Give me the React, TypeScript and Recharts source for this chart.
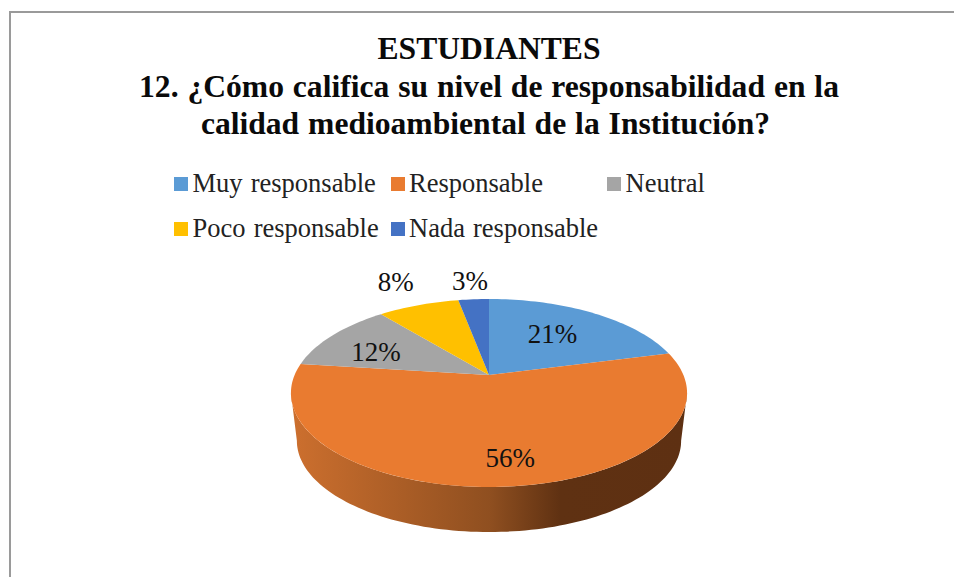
import React from "react";
import { PieChart, Pie, Cell, Legend } from "recharts";

const categories = ["Muy responsable", "Responsable", "Neutral", "Poco responsable", "Nada responsable"];
const shares = [21, 56, 12, 8, 3];
const colors = ["#5B9BD5", "#E97B30", "#A5A5A5", "#FFC000", "#4472C4"];
const titleLines = [
  "ESTUDIANTES",
  "12. ¿Cómo califica su nivel de responsabilidad en la",
  "calidad medioambiental de la Institución?",
];
const tableData = categories.map((name, i) => ({ name, value: shares[i] }));

// Layout of the perspective drawing (not data)
const CX = 489;
const CY = 375;
const RADIUS = 194.4;
const SQUASH = 90.55 / 194.4;
const PERSP = 0.1915;
const WALL_SCALE = 0.97;
const WALL_DROP = 48.4;
const LIMIT_A = 101;
const LIMIT_B = 259;
const labelRadial = [0.59, 0.79, 0.7, 1.4, 1.3];
const labelNudgeX = [-1, 10, -1, 0, 0];
const labelNudgeY = [-2, -1, 6, -1, 0];
const titleNudgeX = [0, 0, -3.5];
const SERIF = '"Liberation Serif", "Times New Roman", serif';

const project = (cx: number, cy: number, R: number, theta: number, r = 1) => {
  const t = (theta * Math.PI) / 180;
  const u = Math.sin(t) * r;
  const v = Math.cos(t) * r;
  const d = 1 + PERSP * v;
  return { x: (R * u) / d, y: -(R * SQUASH * v) / d, cx, cy };
};

const SliceShape = (props: any) => {
  const { cx, cy, outerRadius, startAngle, endAngle, fill } = props;
  const a0 = 90 - startAngle;
  const a1 = 90 - endAngle;
  const steps = Math.max(4, Math.ceil((a1 - a0) / 1.5));
  const top: string[] = [];
  for (let i = 0; i <= steps; i++) {
    const p = project(cx, cy, outerRadius, a0 + ((a1 - a0) * i) / steps);
    top.push(`${(cx + p.x).toFixed(2)} ${(cy + p.y).toFixed(2)}`);
  }
  const w0 = Math.max(a0, LIMIT_A);
  const w1 = Math.min(a1, LIMIT_B);
  let wall = "";
  if (w1 > w0) {
    const upper: string[] = [];
    const lower: string[] = [];
    const n = Math.ceil((w1 - w0) / 1.5);
    for (let i = 0; i <= n; i++) {
      const p = project(cx, cy, outerRadius, w0 + ((w1 - w0) * i) / n);
      upper.push(`${(cx + p.x).toFixed(2)} ${(cy + p.y).toFixed(2)}`);
      lower.unshift(`${(cx + p.x * WALL_SCALE).toFixed(2)} ${(cy + WALL_DROP + p.y * WALL_SCALE).toFixed(2)}`);
    }
    wall = `M${upper.join("L")}L${lower.join("L")}Z`;
  }
  return (
    <g>
      {wall && <path d={wall} fill="url(#wallShade)" />}
      <path d={`M${cx} ${cy}L${top.join("L")}Z`} fill={fill} />
    </g>
  );
};

const renderLabel = (props: any) => {
  const { cx, cy, outerRadius, midAngle, index, value } = props;
  const p = project(cx, cy, outerRadius, 90 - midAngle, labelRadial[index]);
  return (
    <text
      x={cx + p.x + labelNudgeX[index]}
      y={cy + p.y + labelNudgeY[index]}
      textAnchor="middle"
      dominantBaseline="central"
      fontFamily={SERIF}
      fontSize={27}
      fill="#111"
    >
      {value}%
    </text>
  );
};

const renderLegend = (props: any) => {
  const payload = props.payload || [];
  return (
    <div style={{ display: "grid", gridTemplateColumns: "216.5px 216.5px 216.5px", gridAutoRows: "45px", margin: 0 }}>
      {payload.map((e: any) => (
        <div key={e.value} style={{ display: "flex", alignItems: "center", height: 45 }}>
          <span style={{ width: 14, height: 14, background: e.color, marginRight: 4.5, flex: "none" }} />
          <span style={{ fontFamily: SERIF, fontSize: 26.5, wordSpacing: 1.5, color: "#222", whiteSpace: "nowrap", lineHeight: "45px" }}>
            {e.value}
          </span>
        </div>
      ))}
    </div>
  );
};

export default function App() {
  return (
    <div style={{ position: "absolute", left: 0, top: 0, width: 954, height: 577, background: "#fff", overflow: "hidden" }}>
      <div style={{ position: "absolute", left: 9, top: 11, width: 945, height: 566, borderLeft: "2px solid #9a9a9a", borderTop: "2px solid #9a9a9a", boxSizing: "border-box" }} />
      <div style={{ position: "absolute", left: 0, top: 30, width: 978, textAlign: "center", fontFamily: SERIF, fontWeight: 700, fontSize: 31.6, wordSpacing: 1, lineHeight: "37.5px", color: "#0a0a0a" }}>
        {titleLines.map((t, i) => (
          <div key={t} style={{ whiteSpace: "nowrap", position: "relative", left: titleNudgeX[i] }}>{t}</div>
        ))}
      </div>
      <div style={{ position: "absolute", left: 0, top: 0 }}>
        <PieChart width={954} height={577} margin={{ top: 0, right: 0, bottom: 0, left: 0 }}>
          <defs>
            <linearGradient id="wallShade" gradientUnits="userSpaceOnUse" x1={293} y1={0} x2={687} y2={0}>
              <stop offset="0" stopColor="#CC6F2E" />
              <stop offset="0.5" stopColor="#8F4F20" />
              <stop offset="0.68" stopColor="#5F3112" />
              <stop offset="1" stopColor="#5E3012" />
            </linearGradient>
          </defs>
          <Legend
            content={renderLegend}
            itemSorter={null}
            wrapperStyle={{ position: "absolute", left: 174, top: 161, width: 660, height: 90 }}
          />
          <Pie
            data={tableData}
            dataKey="value"
            nameKey="name"
            cx={CX}
            cy={CY}
            innerRadius={0}
            outerRadius={RADIUS}
            startAngle={90}
            endAngle={-270}
            paddingAngle={0}
            stroke="none"
            isAnimationActive={false}
            labelLine={false}
            label={renderLabel}
            shape={SliceShape}
            activeShape={SliceShape}
            inactiveShape={SliceShape}
          >
            {colors.map((c) => (
              <Cell key={c} fill={c} />
            ))}
          </Pie>
        </PieChart>
      </div>
    </div>
  );
}
